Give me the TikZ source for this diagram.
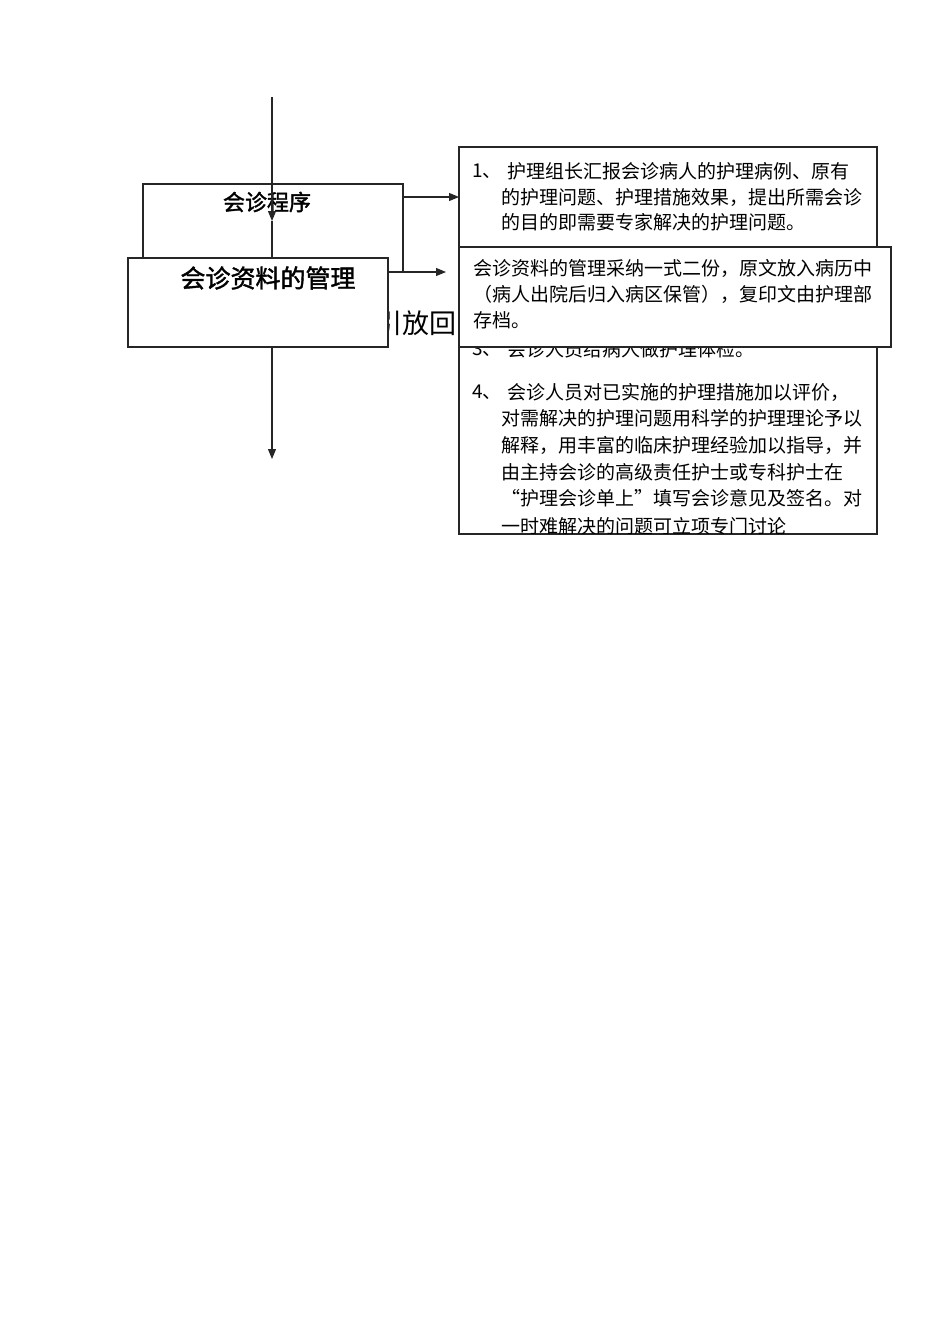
\documentclass[tikz,border=0pt]{standalone}
\usepackage{fontspec}
\usetikzlibrary{arrows.meta}
\newfontfamily\cjk{Noto Sans CJK SC}
\newfontfamily\cjkb[FakeBold=1.6]{Noto Sans CJK SC}
\begin{document}
\begin{tikzpicture}[x=1pt,y=-1pt,
  boxline/.style={draw=black!85,line width=1.1pt},
  conn/.style={draw=black!85,line width=1.1pt},
  tip/.style={-{Triangle[length=10pt,width=8pt]}},
  bodytext/.style={inner sep=0pt,anchor=west,font=\cjk\fontsize{19}{21}\selectfont},
  labeltext/.style={inner sep=0pt,font=\cjkb\fontsize{22}{24}\selectfont}]
\useasboundingbox (0,0) rectangle (950,1344);
\fill[white] (0,0) rectangle (950,1344);
% hidden text under the boxes
\node[labeltext,anchor=east,font=\cjk\fontsize{27}{29}\selectfont] (hidden) at (457,323) {引放回};
% box A
\node[boxline,minimum width=260pt,minimum height=88pt,inner sep=0pt] (boxA) at (273,228) {};
\node[labeltext] (labA) at (267,202) {会诊程序};
% vertical line from top
\coordinate (top) at (272,97);
\coordinate (midtip) at (272,221);
\coordinate (midend) at (272,258);
\draw[conn,tip] (top) -- (midtip);
\draw[conn] (midtip) -- (midend);
% box B
\node[boxline,fill=white,minimum width=260pt,minimum height=89pt,inner sep=0pt] (boxB) at (258,302.5) {};
\node[labeltext,font=\cjkb\fontsize{25}{27}\selectfont] (labB) at (268,278) {会诊资料的管理};
% arrows to the right
\coordinate (a1) at (459,197);
\coordinate (a2) at (446,272);
\draw[conn,tip] (boxA.east |- a1) -- (a1);
\draw[conn,tip] (boxA.east |- a2) -- (a2);
% bottom arrow
\coordinate (bstart) at (272,347);
\coordinate (bend) at (272,459);
\draw[conn,tip] (bstart) -- (bend);
% right box C1
\node[boxline,fill=white,minimum width=418pt,minimum height=387pt,inner sep=0pt] (boxC) at (668,340.5) {};
\begin{scope}
\clip (459.6,147.6) rectangle (876.4,533.4);
\node[bodytext] (n1) at (472,171) {1、};
\node[bodytext] (l1a) at (507,171) {护理组长汇报会诊病人的护理病例、原有};
\node[bodytext] (l1b) at (501,197) {的护理问题、护理措施效果，提出所需会诊};
\node[bodytext] (l1c) at (501,222) {的目的即需要专家解决的护理问题。};
\node[bodytext] (n3) at (472,349) {3、};
\node[bodytext] (l3a) at (507,349) {会诊人员给病人做护理体检。};
\node[bodytext] (n4) at (472,392) {4、};
\node[bodytext] (l4a) at (507,392) {会诊人员对已实施的护理措施加以评价，};
\node[bodytext] (l4b) at (501,418) {对需解决的护理问题用科学的护理理论予以};
\node[bodytext] (l4c) at (501,445) {解释，用丰富的临床护理经验加以指导，并};
\node[bodytext] (l4d) at (501,472) {由主持会诊的高级责任护士或专科护士在};
\node[bodytext] (l4e) at (501,498) {“护理会诊单上”填写会诊意见及签名。对};
\node[bodytext] (l4f) at (501,526) {一时难解决的问题可立项专门讨论};
\end{scope}
% right box C2
\node[boxline,fill=white,minimum width=432pt,minimum height=100pt,inner sep=0pt] (boxD) at (675,297) {};
\node[bodytext] (m1) at (473,268) {会诊资料的管理采纳一式二份，原文放入病历中};
\node[bodytext] (m2) at (473,294) {（病人出院后归入病区保管），复印文由护理部};
\node[bodytext] (m3) at (473,320) {存档。};
\end{tikzpicture}
\end{document}
